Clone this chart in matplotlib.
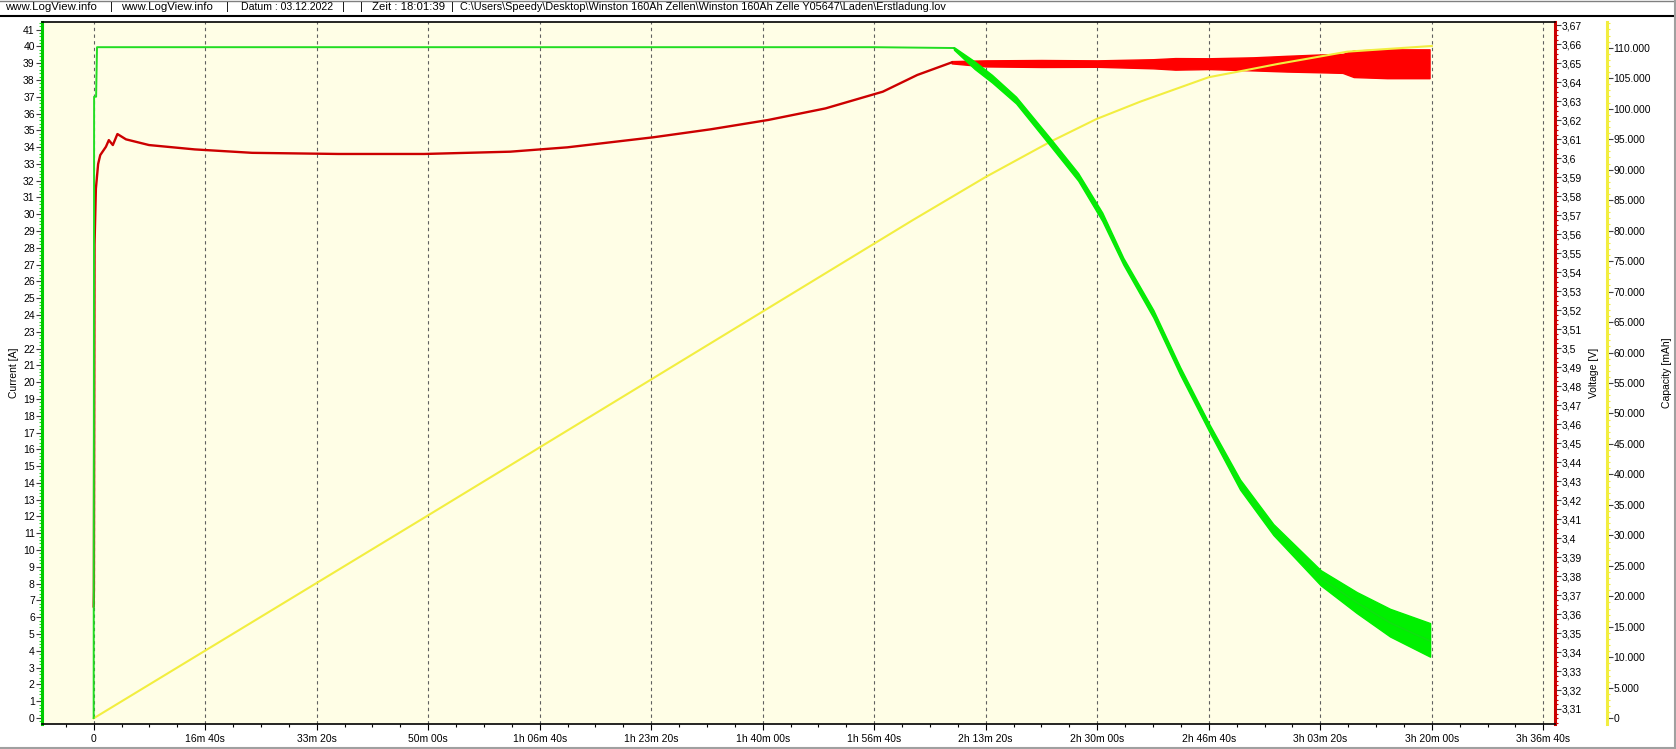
import matplotlib
matplotlib.use("Agg")
import matplotlib.pyplot as plt
from matplotlib.lines import Line2D
from matplotlib.ticker import MultipleLocator, FixedLocator, FuncFormatter

plt.rcParams['font.family'] = ['Liberation Sans', 'DejaVu Sans']

header_parts = ['www.LogView.info', '|', 'www.LogView.info', '|', 'Datum : 03.12.2022', '|', '|',
                'Zeit : 18:01:39', '|',
                'C:\\Users\\Speedy\\Desktop\\Winston 160Ah Zellen\\Winston 160Ah Zelle Y05647\\Laden\\Erstladung.lov']

# x axis: seconds, labels as shown by LogView
tick_sec = [0, 1000, 2000, 3000, 4000, 5000, 6000, 7000, 8000, 9000, 10000, 11000, 12000, 13000]
tick_txt = ['0', '16m 40s', '33m 20s', '50m 00s', '1h 06m 40s', '1h 23m 20s', '1h 40m 00s',
            '1h 56m 40s', '2h 13m 20s', '2h 30m 00s', '2h 46m 40s', '3h 03m 20s', '3h 20m 00s',
            '3h 36m 40s']

# current [A], constant current phase
cc_t = [0, 4, 22, 30, 1000, 3000, 5000, 7000, 7715]
cc_a = [0, 37.0, 37.0, 39.95, 39.95, 39.95, 39.95, 39.95, 39.9]

# current [A], constant voltage phase (noisy band: lower / upper edge)
cv_t = [7715, 7901, 8056, 8272, 8582, 8829, 9045, 9234, 9503, 9743, 10005,
        10281, 10579, 11004, 11327, 11626, 11985]
cv_mid = [39.88, 38.89, 38.1, 36.8, 34.3, 32.24, 29.86, 27.2, 24.07, 20.68, 17.29,
          13.9, 11.23, 8.33, 6.88, 5.67, 4.58]
cv_lo = [39.8, 38.65, 37.85, 36.6, 34.05, 32.0, 29.6, 27.0, 23.85, 20.45, 17.05,
         13.6, 10.9, 7.9, 6.25, 4.85, 3.65]
cv_hi = [39.95, 39.1, 38.3, 37.0, 34.5, 32.45, 30.1, 27.4, 24.3, 20.9, 17.5,
         14.2, 11.55, 8.8, 7.5, 6.5, 5.65]

# voltage [V], rising part
volt_t = [0, 2, 8, 20, 40, 59, 110, 136, 172, 213, 290, 496, 907, 1421, 2193, 2964,
          3735, 4249, 5021, 5535, 6049, 6563, 7077, 7386, 7694]
volt_v = [3.364, 3.372, 3.555, 3.584, 3.597, 3.6017, 3.6061, 3.6096, 3.6070, 3.6128,
          3.6100, 3.6070, 3.6047, 3.6029, 3.6023, 3.6023, 3.6035, 3.6058, 3.6111,
          3.6153, 3.6202, 3.6263, 3.6351, 3.6439, 3.6505]

# voltage [V], regulated part (noisy band)
vb_t = [7694, 8000, 8500, 9000, 9500, 9700, 10000, 10400, 10700, 11000, 11200, 11300, 11600, 11980]
vb_hi = [3.6512, 3.6516, 3.6518, 3.6516, 3.6522, 3.6528, 3.6527, 3.6532, 3.6540,
         3.6547, 3.6550, 3.6568, 3.6574, 3.6574]
vb_lo = [3.6500, 3.6484, 3.6481, 3.6482, 3.6474, 3.6467, 3.6470, 3.6463, 3.6457,
         3.6453, 3.6450, 3.6428, 3.6422, 3.6422]

# capacity [mAh]
cap_t = [0, 3000, 7344, 8000, 8582, 8993, 9386, 9998, 10314, 10623, 10997, 11242, 12000]
cap_mah = [0, 33300, 81700, 88800, 94600, 98300, 101150, 105150, 106250, 107350, 108550,
           109350, 110280]

bg = '#FFFEE6'
green = '#22DD22'
red = '#CC0000'
yellow = '#F2EE40'

fig = plt.figure(figsize=(16.76, 7.49), dpi=100)
ax = fig.add_axes([0.02488, 0.03338, 0.90292, 0.93725])
axV = ax.twinx()
axC = ax.twinx()

ax.set_zorder(3)
ax.patch.set_visible(False)
axC.set_zorder(2)
axV.set_zorder(1)
axV.patch.set_visible(True)
axV.patch.set_facecolor(bg)

# grid
for t in tick_sec:
    axV.axvline(t, color='#606060', lw=0.8, ls=(0, (3, 3)), zorder=0)

# series
axV.plot(volt_t, volt_v, color=red, lw=1.7)
axV.fill_between(vb_t, vb_lo, vb_hi, color='#FF0000', lw=1.0, edgecolor='#FF0000')
axC.plot(cap_t, cap_mah, color=yellow, lw=1.5)
ax.plot(cc_t, cc_a, color=green, lw=1.4)
ax.fill_between(cv_t, cv_lo, cv_hi, color='#00F000', lw=1.0, edgecolor='#00F000')
ax.plot(cv_t, cv_mid, color='#10E010', lw=1.2)

# limits
ax.set_xlim(-466, 13105)
ax.set_ylim(-0.36, 41.45)
axV.set_ylim(3.3021, 3.6718)
axC.set_ylim(-935, 114216)

# x axis
ax.xaxis.set_major_locator(FixedLocator(tick_sec))
ax.set_xticklabels(tick_txt)
ax.xaxis.set_minor_locator(MultipleLocator(250))
ax.tick_params(axis='x', which='major', length=4, width=0.8, pad=3, labelsize=7.5)
ax.tick_params(axis='x', which='minor', length=2, width=0.8)

# current axis
ax.yaxis.set_major_locator(MultipleLocator(1))
ax.yaxis.set_minor_locator(MultipleLocator(0.2))
ax.tick_params(axis='y', which='major', length=4, width=0.8, color='#404040', pad=1, labelsize=7.5)
ax.tick_params(axis='y', which='minor', length=2, width=0.8, color=green)
ax.set_ylabel('Current [A]', fontsize=7.5)
ax.yaxis.set_label_coords(-0.0150, 0.5)

# voltage axis
axV.yaxis.set_major_locator(MultipleLocator(0.01))
axV.yaxis.set_minor_locator(MultipleLocator(0.0025))
axV.yaxis.set_major_formatter(FuncFormatter(
    lambda v, p: ('%.2f' % v).rstrip('0').rstrip('.').replace('.', ',')))
axV.tick_params(axis='y', which='major', length=4, width=0.8, color='#404040', pad=1, labelsize=7.5)
axV.tick_params(axis='y', which='minor', length=2, width=0.8, color=red)
axV.set_ylabel('Voltage [V]', fontsize=7.5)
axV.yaxis.set_label_coords(1.0228, 0.5)

# capacity axis
axC.spines['right'].set_position(('axes', 1.0342))
axC.yaxis.set_major_locator(MultipleLocator(5000))
axC.yaxis.set_minor_locator(MultipleLocator(1000))
axC.yaxis.set_major_formatter(FuncFormatter(lambda c, p: '{:,}'.format(int(round(c))).replace(',', '.')))
axC.tick_params(axis='y', which='major', length=4, width=0.8, color='#404040', pad=1, labelsize=7.5)
axC.tick_params(axis='y', which='minor', length=2, width=0.8, color=yellow)
axC.set_ylabel('Capacity [mAh]', fontsize=7.5)
axC.yaxis.set_label_coords(1.0706, 0.5)

# spines
ax.spines['left'].set_color('#00CC00')
ax.spines['left'].set_linewidth(2.2)
ax.spines['right'].set_visible(False)
ax.spines['top'].set_linewidth(1.2)
ax.spines['bottom'].set_linewidth(1.2)
for s in ['left', 'top', 'bottom']:
    axV.spines[s].set_visible(False)
    axC.spines[s].set_visible(False)
axV.spines['right'].set_color('#CC0000')
axV.spines['right'].set_linewidth(2.2)
axC.spines['right'].set_color(yellow)
axC.spines['right'].set_linewidth(2.2)

# header strip and window border
header_x = [5, 110, 121, 226, 241, 342, 360, 372, 451, 460]
header_fs = [8.2, 8.2, 8.2, 8.2, 7.6, 8.2, 8.2, 8.2, 8.2, 7.8]
for txt, hx, fs in zip(header_parts, header_x, header_fs):
    fig.text(hx / 1676, 1 - 7.5 / 749, txt, fontsize=fs, ha='left', va='center')
fig.add_artist(Line2D([0, 1], [1 - 16 / 749] * 2, color='black', lw=1.5, transform=fig.transFigure))
fig.add_artist(Line2D([0, 1], [0.999, 0.999], color='#808080', lw=1, transform=fig.transFigure))
fig.add_artist(Line2D([0, 1], [0.002, 0.002], color='#A0A0A0', lw=1.5, transform=fig.transFigure))
fig.add_artist(Line2D([0.9995, 0.9995], [0, 1], color='#A0A0A0', lw=1.5, transform=fig.transFigure))

fig.savefig('out.png', dpi=100)
